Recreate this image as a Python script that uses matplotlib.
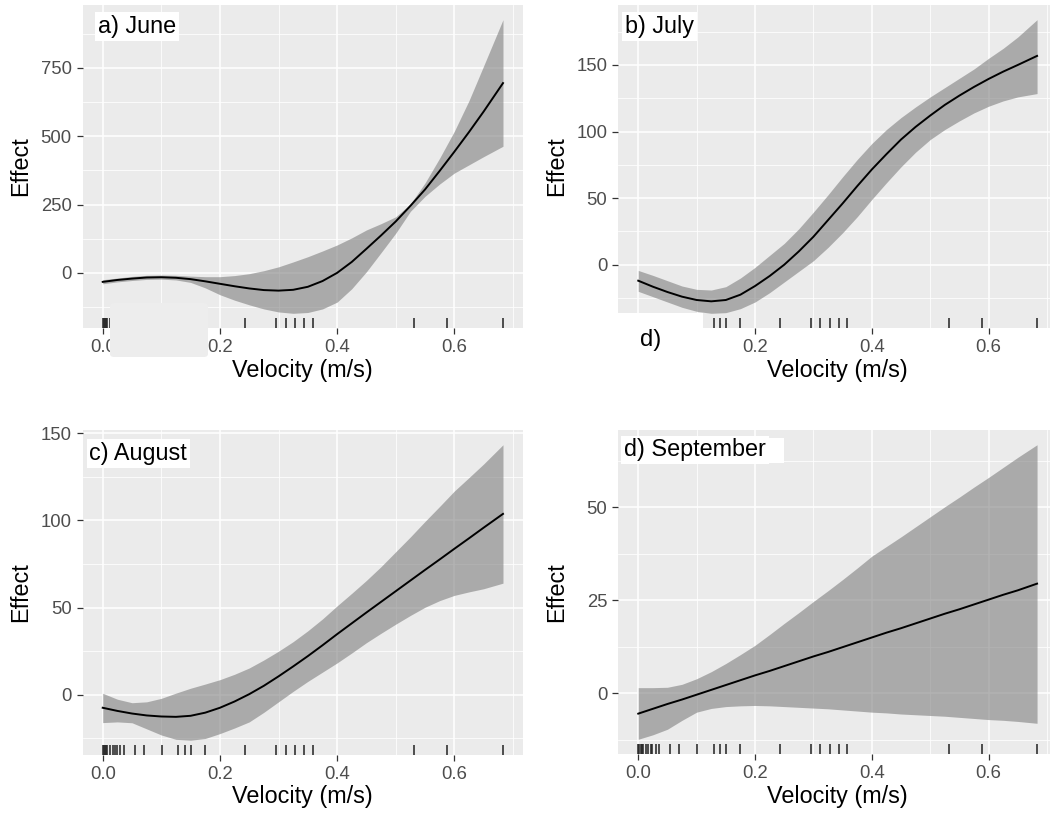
import matplotlib
matplotlib.use("Agg")
import matplotlib.pyplot as plt
from matplotlib.patches import Rectangle, FancyBboxPatch
from matplotlib.ticker import MultipleLocator

plt.rcParams['font.family'] = ['Liberation Sans', 'DejaVu Sans']

# observed velocities (shared rug)
rug_vel = [0.0, 0.002, 0.004, 0.006, 0.008, 0.013, 0.017, 0.021, 0.024, 0.030,
           0.036, 0.055, 0.070, 0.101, 0.129, 0.140, 0.151, 0.175, 0.242, 0.296,
           0.312, 0.328, 0.344, 0.358, 0.532, 0.588, 0.683]

vel = [0.0, 0.025, 0.05, 0.075, 0.1, 0.125, 0.15, 0.175, 0.2, 0.225, 0.25, 0.275,
       0.3, 0.325, 0.35, 0.375, 0.4, 0.425, 0.45, 0.475, 0.5, 0.525, 0.55, 0.575,
       0.6, 0.625, 0.65, 0.683]

# June
jun_fit = [-33, -26, -21, -17, -16, -18, -23, -31, -40, -49, -57, -63, -65, -62,
           -51, -30, 0, 40, 88, 137, 188, 245, 305, 373, 443, 515, 590, 694]
jun_lo = [-40, -33, -28, -24, -23, -26, -35, -55, -80, -100, -117, -132, -143, -148,
          -145, -132, -107, -58, 4, 74, 145, 225, 280, 325, 365, 395, 425, 463]
jun_hi = [-25, -19, -13, -9, -8, -9, -12, -14, -14, -10, -3, 8, 22, 40,
          59, 80, 102, 128, 157, 180, 205, 252, 329, 420, 518, 630, 757, 926]

# July
jul_fit = [-12, -16.5, -20.5, -24, -26.5, -27.5, -26.5, -22.5, -16, -8.5, 0, 10,
           21, 33.5, 46, 59, 71.5, 83, 94, 103.5, 112, 120, 127, 133.5, 139.5, 145,
           150, 156.8]
jul_lo = [-20, -24, -28, -32, -35, -36.5, -36, -33, -28, -21, -13, -5, 3, 13,
          24, 36, 49, 61.5, 73.5, 84.5, 94, 101.5, 108, 114, 119, 123, 126, 128.5]
jul_hi = [-4.3, -8, -12, -16, -18.5, -19, -16.5, -10, -2, 7, 16, 27, 39.5, 52.5,
          66, 79, 91, 101.5, 110.5, 118.5, 126, 133, 140, 147, 155, 162.5, 171, 184]

# August
aug_fit = [-7.4, -9.2, -10.7, -11.8, -12.4, -12.6, -12, -10.2, -7.4, -3.8, 0.4, 5.2,
           10.6, 16.3, 22.2, 28.4, 34.8, 41, 47.2, 53.3, 59.4, 65.5, 71.6, 77.6,
           83.7, 89.7, 95.8, 103.7]
aug_lo = [-15.9, -15.5, -16, -19.5, -23, -25.5, -26, -25, -22.2, -19, -15.5, -10,
          -4, 2, 7.7, 13, 18.3, 24, 29.9, 35.3, 40.5, 45.5, 50.2, 54, 57, 59, 60.8, 64]
aug_hi = [0.9, -2.5, -4.5, -4, -2, 1, 3.8, 6.2, 8.7, 11.8, 15.4, 20, 25, 30.5,
          36.7, 43.5, 51, 58.2, 65.6, 73.5, 82, 90.5, 99.4, 108, 116.8, 124.5,
          132.3, 143.3]

# September
sep_fit = [-5.5, -4.2, -2.9, -1.7, -0.4, 0.9, 2.2, 3.5, 4.8, 6.0, 7.3, 8.6, 9.9,
           11.1, 12.4, 13.7, 15.0, 16.3, 17.5, 18.8, 20.1, 21.4, 22.6, 23.9, 25.2,
           26.5, 27.7, 29.5]
sep_lo = [-12.4, -11.2, -9.7, -7.3, -5.1, -4.1, -3.6, -3.4, -3.3, -3.4, -3.6, -3.8,
          -4.0, -4.2, -4.5, -4.8, -5.1, -5.3, -5.6, -5.8, -6.0, -6.2, -6.5, -6.8,
          -7.1, -7.3, -7.6, -8.1]
sep_hi = [1.5, 1.5, 1.6, 2.4, 3.9, 5.8, 8.0, 10.4, 12.9, 15.8, 18.8, 21.7, 24.7,
          27.6, 30.6, 33.7, 36.9, 39.5, 42.1, 44.8, 47.5, 50.2, 52.8, 55.5, 58.1,
          60.8, 63.5, 66.9]

x_ticks = [0.0, 0.2, 0.4, 0.6]
x_labels = ['0.0', '0.2', '0.4', '0.6']

panels = [
    ("a) June", jun_fit, jun_lo, jun_hi, 250),
    ("b) July", jul_fit, jul_lo, jul_hi, 50),
    ("c) August", aug_fit, aug_lo, aug_hi, 50),
    ("d) September", sep_fit, sep_lo, sep_hi, 25),
]

# axes rectangles in pixels: left, top, right, bottom
W, H = 1050, 816
boxes = [(82.7, 5, 523, 328), (618.3, 5, 1057, 328),
         (82.7, 430, 523, 755), (618.3, 430, 1057, 754)]
label_pos = [(0.034, 0.969), (0.015, 0.969), (0.015, 0.964), (0.013, 0.974)]

fig = plt.figure(figsize=(W / 100, H / 100), dpi=100)

for i, ((title, fit, lo, hi, step), (l, t, r, b), (lx, ly)) in enumerate(
        zip(panels, boxes, label_pos)):
    ax = fig.add_axes([l / W, 1 - b / H, (r - l) / W, (b - t) / H])
    ax.set_facecolor('#EBEBEB')
    for s in ax.spines.values():
        s.set_visible(False)

    ax.fill_between(vel, lo, hi, color='#808080', alpha=0.6, lw=0, zorder=2)
    ax.plot(vel, fit, color='black', lw=1.4, zorder=3)

    # rug along the bottom, 3% of panel height
    tr = ax.get_xaxis_transform()
    for v in rug_vel:
        ax.plot([v, v], [0, 0.03], transform=tr, color='#222222', lw=1.1,
                zorder=3, solid_capstyle='butt')

    xlo, xhi = min(rug_vel), max(rug_vel)
    xp = 0.05 * (xhi - xlo)
    ax.set_xlim(xlo - xp, xhi + xp)
    ylo, yhi = min(lo), max(hi)
    yp = 0.05 * (yhi - ylo)
    ax.set_ylim(ylo - yp, yhi + yp)

    labels = list(x_labels)
    if i == 1:
        labels[0] = ''  # sits under the blank strip
    ax.set_xticks(x_ticks, labels=labels)
    ax.xaxis.set_minor_locator(MultipleLocator(0.1))
    ax.yaxis.set_major_locator(MultipleLocator(step))
    ax.yaxis.set_minor_locator(MultipleLocator(step / 2))
    ax.grid(which='major', color='white', lw=1.1)
    ax.grid(which='minor', color='white', lw=0.55)
    ax.set_axisbelow(True)

    ax.tick_params(which='major', length=4, width=0.9, color='#333333',
                   labelcolor='#4D4D4D', labelsize=13.3, pad=4)
    ax.tick_params(which='minor', length=0)

    ax.set_xlabel('Velocity (m/s)', fontsize=16.8)
    ax.set_ylabel('Effect', fontsize=16.8)
    ax.xaxis.set_label_coords(0.5, -42 / (b - t))
    ax.xaxis.label.set_va('center')
    ax.yaxis.set_label_coords(-62 / (r - l), 0.5)
    ax.yaxis.label.set_va('center')

    ax.text(lx, ly, title, transform=ax.transAxes, ha='left', va='top',
            fontsize=16.8, zorder=5,
            bbox=dict(boxstyle='square,pad=0.12', fc='white', ec='none'))
    if title.startswith('d)'):
        ax.add_patch(Rectangle((lx, ly - 0.077), 0.365, 0.077, transform=ax.transAxes,
                               fc='white', ec='none', zorder=4))

# patches laid over the top row
fig.patches.append(FancyBboxPatch((110 / W, 1 - 357 / H), 98 / W, 54 / H,
                                  boxstyle='round,pad=0,rounding_size=0.004',
                                  transform=fig.transFigure, fc='#EDEDED', ec='none',
                                  zorder=10))
fig.patches.append(Rectangle((526 / W, 1 - 365 / H), 177 / W, 52 / H,
                             transform=fig.transFigure, fc='white', ec='none', zorder=10))
fig.text(651 / W, 1 - 340 / H, 'd)', ha='center', va='center', fontsize=17,
         color='black', zorder=11)

fig.savefig('out.png', dpi=100)
